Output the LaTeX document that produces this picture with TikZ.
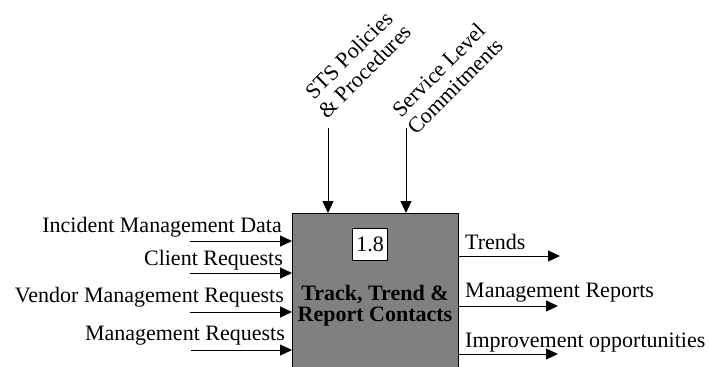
\documentclass[tikz,border=0pt]{standalone}
\usepackage{fontspec}
\setmainfont{Liberation Serif}
\usetikzlibrary{arrows.meta}
\tikzset{
  flow/.style={draw=black, line width=0.9bp, -{Triangle[length=12bp,width=11bp]}},
  lbl/.style={inner sep=0pt, font=\fontsize{22bp}{23bp}\selectfont},
  rlbl/.style={lbl, anchor=base east},
  olbl/.style={lbl, anchor=base west},
  tlbl/.style={lbl, rotate=45, align=center},
  actbox/.style={draw=black, line width=0.9bp, fill={rgb,255:red,128;green,128;blue,128}},
  numbox/.style={draw=black, line width=0.9bp, fill=white, minimum width=35bp, minimum height=32bp, inner sep=0pt, font=\fontsize{22bp}{23bp}\selectfont}
}
\begin{document}
\begin{tikzpicture}[x=1bp,y=-1bp]
\useasboundingbox (0,0) rectangle (709,366);
% main box
\draw[actbox] (292,213) rectangle (458,370);
\node[numbox] (num) at (370,244) {1.8};
\node[lbl, align=center, font=\fontsize{22bp}{21bp}\selectfont\bfseries] (title) at (375,306) {Track, Trend \&\\Report Contacts};
% input side
\coordinate (i1s) at (190,241); \coordinate (i1e) at (292,241);
\coordinate (i2s) at (190,273); \coordinate (i2e) at (292,273);
\coordinate (i3s) at (190,312); \coordinate (i3e) at (292,312);
\coordinate (i4s) at (191,350); \coordinate (i4e) at (292,350);
\draw[flow] (i1s) -- (i1e);
\draw[flow] (i2s) -- (i2e);
\draw[flow] (i3s) -- (i3e);
\draw[flow] (i4s) -- (i4e);
\node[rlbl] (l1) at (282,232) {Incident Management Data};
\node[rlbl] (l2) at (283,265) {Client Requests};
\node[rlbl] (l3) at (284,302) {Vendor Management Requests};
\node[rlbl] (l4) at (285,340) {Management Requests};
% outputs
\coordinate (o1s) at (458,256); \coordinate (o1e) at (560,256);
\coordinate (o2s) at (458,306); \coordinate (o2e) at (558,306);
\coordinate (o3s) at (458,354); \coordinate (o3e) at (558,354);
\draw[flow] (o1s) -- (o1e);
\draw[flow] (o2s) -- (o2e);
\draw[flow] (o3s) -- (o3e);
\node[olbl] (r1) at (465,249) {Trends};
\node[olbl] (r2) at (465,297) {Management Reports};
\node[olbl] (r3) at (465,347) {Improvement opportunities};
% controls
\coordinate (c1s) at (328,128); \coordinate (c1e) at (328,213);
\coordinate (c2s) at (406,128); \coordinate (c2e) at (406,213);
\draw[flow] (c1s) -- (c1e);
\draw[flow] (c2s) -- (c2e);
\node[tlbl] (t1) at (357,63) {STS Policies\\\& Procedures};
\node[tlbl] (t2) at (447,78) {Service Level\\Commitments};
\end{tikzpicture}
\end{document}
